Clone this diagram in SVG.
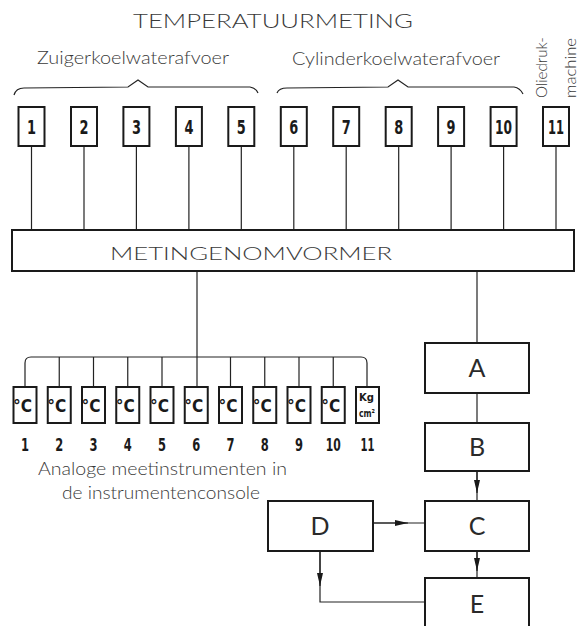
<svg xmlns="http://www.w3.org/2000/svg" width="582" height="626" viewBox="0 0 582 626">
<style>
.box{fill:none;stroke:#1a1a1a;stroke-width:2}
.ln{fill:none;stroke:#222;stroke-width:1.2}
.lbl{font-family:Lato,"Open Sans","DejaVu Sans",sans-serif;font-weight:300;fill:#3a3a3a}
.num{font-family:"DejaVu Sans Condensed","DejaVu Sans",sans-serif;font-weight:bold;fill:#1a1a1a;text-anchor:middle}
.big{font-family:Lato,"DejaVu Sans",sans-serif;font-weight:400;font-size:25px;fill:#2a2a2a;text-anchor:middle}
.unit{font-family:"DejaVu Sans Condensed","DejaVu Sans",sans-serif;font-weight:bold;fill:#1a1a1a}
</style>
<defs>
<marker id="arr" markerUnits="userSpaceOnUse" markerWidth="14" markerHeight="8" refX="13" refY="3" orient="auto">
<path d="M0,0 L13,3 L0,6 z" fill="#1a1a1a"/>
</marker>
</defs>
<rect width="582" height="626" fill="#fff"/>

<g id="labels">
<text class="lbl" x="133" y="28" font-size="19" textLength="280" lengthAdjust="spacingAndGlyphs">TEMPERATUURMETING</text>
<text class="lbl" x="37" y="64" font-size="17" textLength="192" lengthAdjust="spacingAndGlyphs">Zuigerkoelwaterafvoer</text>
<text class="lbl" x="292" y="65" font-size="17" textLength="208" lengthAdjust="spacingAndGlyphs">Cylinderkoelwaterafvoer</text>
<text class="lbl" font-size="15" transform="translate(547,98) rotate(-90)" textLength="61" lengthAdjust="spacingAndGlyphs">Oliedruk-</text>
<text class="lbl" font-size="15" transform="translate(576,98) rotate(-90)" textLength="60" lengthAdjust="spacingAndGlyphs">machine</text>
<path class="ln" d="M14,95 Q16,88 24,88 L128,87 L138,80 L148,87 L250,87 Q256,88 258,93" stroke="#444"/>
<path class="ln" d="M277,93 Q279,88 287,88 L388,87 L398,80 L408,87 L514,87 Q520,88 523,94" stroke="#444"/>
<text class="lbl" x="38" y="475" font-size="18" textLength="249" lengthAdjust="spacingAndGlyphs">Analoge meetinstrumenten in</text>
<text class="lbl" x="62" y="499" font-size="18" textLength="198" lengthAdjust="spacingAndGlyphs">de instrumentenconsole</text>
</g>

<g id="connectors">
<g class="ln">
<line x1="31.5" y1="146" x2="31.5" y2="230"/>
<line x1="84" y1="146" x2="84" y2="230"/>
<line x1="136.4" y1="146" x2="136.4" y2="230"/>
<line x1="188.9" y1="146" x2="188.9" y2="230"/>
<line x1="241.3" y1="146" x2="241.3" y2="230"/>
<line x1="293.8" y1="146" x2="293.8" y2="230"/>
<line x1="346.2" y1="146" x2="346.2" y2="230"/>
<line x1="398.7" y1="146" x2="398.7" y2="230"/>
<line x1="451.1" y1="146" x2="451.1" y2="230"/>
<line x1="503.6" y1="146" x2="503.6" y2="230"/>
<line x1="556" y1="146" x2="556" y2="230"/>
<line x1="197" y1="271" x2="197" y2="387"/>
<path d="M25,387 L25,363 Q25,357 31,357 L361,357 Q367,357 367,363 L367,387"/>
<line x1="59.25" y1="357" x2="59.25" y2="387"/>
<line x1="93.5" y1="357" x2="93.5" y2="387"/>
<line x1="127.75" y1="357" x2="127.75" y2="387"/>
<line x1="162" y1="357" x2="162" y2="387"/>
<line x1="230.5" y1="357" x2="230.5" y2="387"/>
<line x1="264.75" y1="357" x2="264.75" y2="387"/>
<line x1="299" y1="357" x2="299" y2="387"/>
<line x1="333.25" y1="357" x2="333.25" y2="387"/>
<line x1="477" y1="271" x2="477" y2="343"/>
<line x1="477" y1="393" x2="477" y2="423"/>
<line x1="477" y1="471" x2="477" y2="501"/>
<line x1="477" y1="551" x2="477" y2="578"/>
<line x1="373" y1="523" x2="425" y2="523"/>
<path d="M320,551 L320,602 L425,602"/>
</g>
<line class="ln" x1="477" y1="471" x2="477" y2="493" marker-end="url(#arr)"/>
<line class="ln" x1="477" y1="551" x2="477" y2="571" marker-end="url(#arr)"/>
<line class="ln" x1="373" y1="523" x2="408" y2="523" marker-end="url(#arr)"/>
<line class="ln" x1="320" y1="551" x2="320" y2="586" marker-end="url(#arr)"/>
</g>

<g id="t1"><rect class="box" x="18.5" y="107" width="26" height="39"/><text class="num" x="31.5" y="134" font-size="20" textLength="9" lengthAdjust="spacingAndGlyphs">1</text></g>
<g id="t2"><rect class="box" x="71" y="107" width="26" height="39"/><text class="num" x="84" y="134" font-size="20" textLength="9" lengthAdjust="spacingAndGlyphs">2</text></g>
<g id="t3"><rect class="box" x="123.4" y="107" width="26" height="39"/><text class="num" x="136.4" y="134" font-size="20" textLength="9" lengthAdjust="spacingAndGlyphs">3</text></g>
<g id="t4"><rect class="box" x="175.9" y="107" width="26" height="39"/><text class="num" x="188.9" y="134" font-size="20" textLength="9" lengthAdjust="spacingAndGlyphs">4</text></g>
<g id="t5"><rect class="box" x="228.3" y="107" width="26" height="39"/><text class="num" x="241.3" y="134" font-size="20" textLength="9" lengthAdjust="spacingAndGlyphs">5</text></g>
<g id="t6"><rect class="box" x="280.8" y="107" width="26" height="39"/><text class="num" x="293.8" y="134" font-size="20" textLength="9" lengthAdjust="spacingAndGlyphs">6</text></g>
<g id="t7"><rect class="box" x="333.2" y="107" width="26" height="39"/><text class="num" x="346.2" y="134" font-size="20" textLength="9" lengthAdjust="spacingAndGlyphs">7</text></g>
<g id="t8"><rect class="box" x="385.7" y="107" width="26" height="39"/><text class="num" x="398.7" y="134" font-size="20" textLength="9" lengthAdjust="spacingAndGlyphs">8</text></g>
<g id="t9"><rect class="box" x="438.1" y="107" width="26" height="39"/><text class="num" x="451.1" y="134" font-size="20" textLength="9" lengthAdjust="spacingAndGlyphs">9</text></g>
<g id="t10"><rect class="box" x="490.6" y="107" width="26" height="39"/><text class="num" x="503.6" y="134" font-size="20" textLength="17" lengthAdjust="spacingAndGlyphs">10</text></g>
<g id="t11"><rect class="box" x="543" y="107" width="26" height="39"/><text class="num" x="556" y="134" font-size="20" textLength="16" lengthAdjust="spacingAndGlyphs">11</text></g>

<g id="metingenomvormer"><rect class="box" x="12" y="230" width="562" height="41"/><text class="lbl" x="110" y="260" font-size="18" textLength="282" lengthAdjust="spacingAndGlyphs">METINGENOMVORMER</text></g>

<g id="i1"><rect class="box" x="13.5" y="387" width="23" height="36"/><text class="unit" x="13" y="412" font-size="17" textLength="19" lengthAdjust="spacingAndGlyphs">°C</text><text class="num" x="25" y="451" font-size="18" textLength="8" lengthAdjust="spacingAndGlyphs">1</text></g>
<g id="i2"><rect class="box" x="47.75" y="387" width="23" height="36"/><text class="unit" x="47.25" y="412" font-size="17" textLength="19" lengthAdjust="spacingAndGlyphs">°C</text><text class="num" x="59.25" y="451" font-size="18" textLength="8" lengthAdjust="spacingAndGlyphs">2</text></g>
<g id="i3"><rect class="box" x="82" y="387" width="23" height="36"/><text class="unit" x="81.5" y="412" font-size="17" textLength="19" lengthAdjust="spacingAndGlyphs">°C</text><text class="num" x="93.5" y="451" font-size="18" textLength="8" lengthAdjust="spacingAndGlyphs">3</text></g>
<g id="i4"><rect class="box" x="116.25" y="387" width="23" height="36"/><text class="unit" x="115.75" y="412" font-size="17" textLength="19" lengthAdjust="spacingAndGlyphs">°C</text><text class="num" x="127.75" y="451" font-size="18" textLength="8" lengthAdjust="spacingAndGlyphs">4</text></g>
<g id="i5"><rect class="box" x="150.5" y="387" width="23" height="36"/><text class="unit" x="150" y="412" font-size="17" textLength="19" lengthAdjust="spacingAndGlyphs">°C</text><text class="num" x="162" y="451" font-size="18" textLength="8" lengthAdjust="spacingAndGlyphs">5</text></g>
<g id="i6"><rect class="box" x="184.75" y="387" width="23" height="36"/><text class="unit" x="184.25" y="412" font-size="17" textLength="19" lengthAdjust="spacingAndGlyphs">°C</text><text class="num" x="196.25" y="451" font-size="18" textLength="8" lengthAdjust="spacingAndGlyphs">6</text></g>
<g id="i7"><rect class="box" x="219" y="387" width="23" height="36"/><text class="unit" x="218.5" y="412" font-size="17" textLength="19" lengthAdjust="spacingAndGlyphs">°C</text><text class="num" x="230.5" y="451" font-size="18" textLength="8" lengthAdjust="spacingAndGlyphs">7</text></g>
<g id="i8"><rect class="box" x="253.25" y="387" width="23" height="36"/><text class="unit" x="252.75" y="412" font-size="17" textLength="19" lengthAdjust="spacingAndGlyphs">°C</text><text class="num" x="264.75" y="451" font-size="18" textLength="8" lengthAdjust="spacingAndGlyphs">8</text></g>
<g id="i9"><rect class="box" x="287.5" y="387" width="23" height="36"/><text class="unit" x="287" y="412" font-size="17" textLength="19" lengthAdjust="spacingAndGlyphs">°C</text><text class="num" x="299" y="451" font-size="18" textLength="8" lengthAdjust="spacingAndGlyphs">9</text></g>
<g id="i10"><rect class="box" x="321.75" y="387" width="23" height="36"/><text class="unit" x="321.25" y="412" font-size="17" textLength="19" lengthAdjust="spacingAndGlyphs">°C</text><text class="num" x="333.25" y="451" font-size="18" textLength="15" lengthAdjust="spacingAndGlyphs">10</text></g>
<g id="i11"><rect class="box" x="356" y="387" width="23" height="36" stroke-width="2.6"/><text class="unit" x="359" y="401" font-size="11" textLength="15" lengthAdjust="spacingAndGlyphs">Kg</text><text class="unit" x="359" y="417" font-size="11" textLength="16" lengthAdjust="spacingAndGlyphs">cm²</text><text class="num" x="367.5" y="451" font-size="18" textLength="14" lengthAdjust="spacingAndGlyphs">11</text></g>

<g id="A"><rect class="box" x="425" y="343" width="104" height="50"/><text class="big" x="477" y="377">A</text></g>
<g id="B"><rect class="box" x="425" y="423" width="104" height="48"/><text class="big" x="477" y="456">B</text></g>
<g id="C"><rect class="box" x="425" y="501" width="104" height="50"/><text class="big" x="477" y="535">C</text></g>
<g id="D"><rect class="box" x="268" y="501" width="105" height="50"/><text class="big" x="320" y="535">D</text></g>
<g id="E"><rect class="box" x="425" y="578" width="104" height="60"/><text class="big" x="477" y="613">E</text></g>
</svg>
